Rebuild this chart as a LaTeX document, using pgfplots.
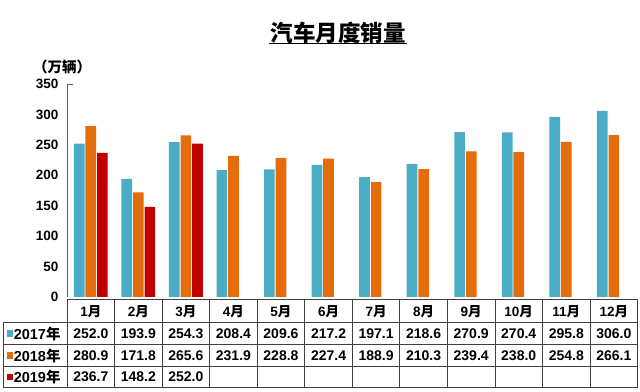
\documentclass[border=0pt]{standalone}
\usepackage{pgfplots}
\pgfplotsset{compat=1.18}
\usepackage{fontspec}
\setmainfont{Liberation Sans}
\newfontfamily\cjk{Noto Sans CJK SC}
\definecolor{c17}{HTML}{4BACC6}
\definecolor{c18}{HTML}{E46C0A}
\definecolor{c19}{HTML}{C00000}
\definecolor{grid}{HTML}{404040}
\begin{document}
\begin{tikzpicture}[x=1pt,y=1pt]
\useasboundingbox (0,0) rectangle (640,391);
\begin{axis}[
  at={(67pt,94pt)}, anchor=south west,
  scale only axis, width=570.6pt, height=213pt,
  xmin=0, xmax=12, ymin=0, ymax=350,
  axis lines*=left,
  x axis line style={draw=none},
  y axis line style={draw=gray!80!black, line width=0.7pt, -},
  xtick=\empty,
  ytick={0,50,...,350},
  major tick length=0pt,
  extra y ticks={350},
  extra y tick labels={},
  extra y tick style={major tick length=6pt, tick align=inside, tick style={draw=gray!80!black, line width=0.7pt}},
  /pgf/number format/assume math mode=true,
  yticklabel style={font=\bfseries\fontsize{13.5}{14}\selectfont, inner sep=0pt, xshift=-8.5pt},
  clip=false,
]
\addplot[ybar, bar width=0.224, bar shift=-0.243, fill=c17, draw=none] coordinates {
 (0.5,252.0) (1.5,193.9) (2.5,254.3) (3.5,208.4) (4.5,209.6) (5.5,217.2)
 (6.5,197.1) (7.5,218.6) (8.5,270.9) (9.5,270.4) (10.5,295.8) (11.5,306.0)};
\addplot[ybar, bar width=0.224, bar shift=0, fill=c18, draw=none] coordinates {
 (0.5,280.9) (1.5,171.8) (2.5,265.6) (3.5,231.9) (4.5,228.8) (5.5,227.4)
 (6.5,188.9) (7.5,210.3) (8.5,239.4) (9.5,238.0) (10.5,254.8) (11.5,266.1)};
\addplot[ybar, bar width=0.224, bar shift=0.243, fill=c19, draw=none] coordinates {
 (0.5,236.7) (1.5,148.2) (2.5,252.0)};
\end{axis}
% title
\node[font=\cjk\bfseries\fontsize{22.5}{24}\selectfont, inner sep=0pt] at (338,391-32.5) {汽车月度销量};
\draw[line width=1pt] (269,391-43.5) -- (407,391-43.5);
% unit
\node[font=\cjk\bfseries\fontsize{14.5}{15}\selectfont, inner sep=0pt] at (62,391-67) {（万辆）};
% data table
\begin{scope}[grid, line width=0.8pt]
\draw (67,391-299.5) -- (637.6,391-299.5);
\foreach \yy in {322.5,344.5,366,387.5} \draw (3,391-\yy) -- (637.6,391-\yy);
\foreach \k in {0,...,12} \draw ({67+\k*47.55},391-299.5) -- ({67+\k*47.55},391-387.5);
\draw (3,391-322.5) -- (3,391-387.5);
\end{scope}
\foreach \i in {1,...,12}
  \node[font=\bfseries\fontsize{13.5}{14}\selectfont, inner sep=0pt] at ({67+(\i-0.5)*47.55},391-311.5) {\i{\cjk\bfseries 月}};
\foreach \v [count=\i from 0] in {252.0,193.9,254.3,208.4,209.6,217.2,197.1,218.6,270.9,270.4,295.8,306.0}
  \node[font=\bfseries\fontsize{14}{15}\selectfont, inner sep=0pt] at ({67+(\i+0.5)*47.55},391-333.5) {\v};
\foreach \v [count=\i from 0] in {280.9,171.8,265.6,231.9,228.8,227.4,188.9,210.3,239.4,238.0,254.8,266.1}
  \node[font=\bfseries\fontsize{14}{15}\selectfont, inner sep=0pt] at ({67+(\i+0.5)*47.55},391-355.5) {\v};
\foreach \v [count=\i from 0] in {236.7,148.2,252.0}
  \node[font=\bfseries\fontsize{14}{15}\selectfont, inner sep=0pt] at ({67+(\i+0.5)*47.55},391-377) {\v};
% legend keys
\foreach \c/\yr/\yy in {c17/2017/333.5, c18/2018/355.5, c19/2019/377} {
  \fill[\c] (7,391-\yy-3.2) rectangle (13,391-\yy+3.2);
  \node[anchor=west, font=\bfseries\fontsize{14.5}{15}\selectfont, inner sep=0pt] at (13.6,391-\yy) {\yr{\cjk\bfseries 年}};
}
\end{tikzpicture}
\end{document}
